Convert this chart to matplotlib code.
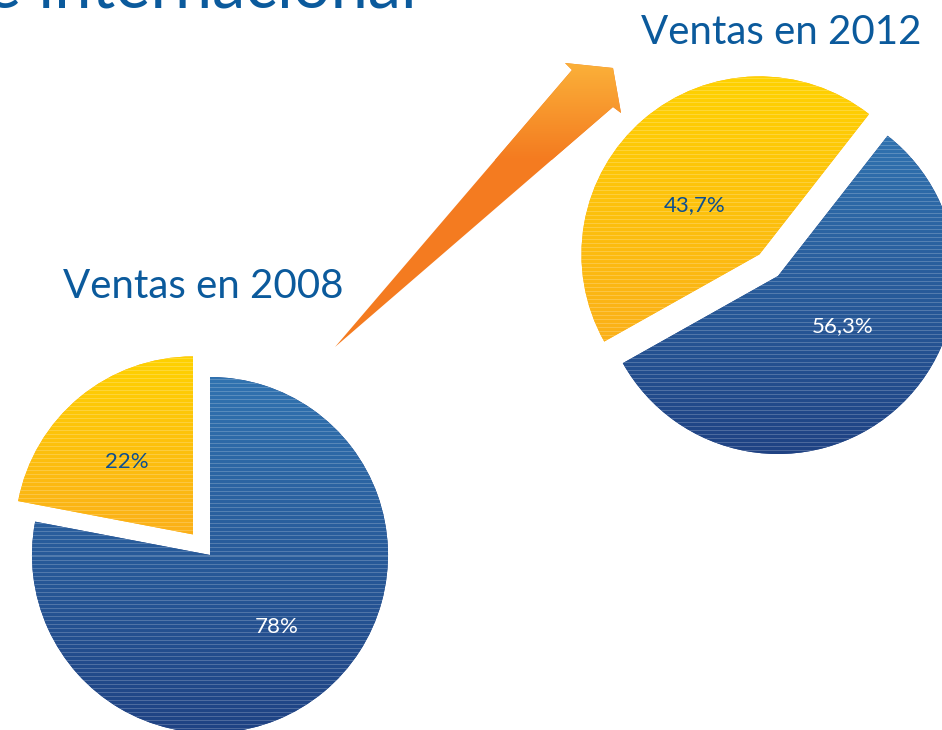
import numpy as np
import matplotlib
matplotlib.use("Agg")
import matplotlib.pyplot as plt
from matplotlib.colors import to_rgb
from matplotlib.patches import Polygon

# ---------- DATA ----------
slices = ["Internacional", "Nacional"]
ventas_2008 = [22, 78]
ventas_2012 = [43.7, 56.3]
labels_2008 = ["22%", "78%"]
labels_2012 = ["43,7%", "56,3%"]
title_2008 = "Ventas en 2008"
title_2012 = "Ventas en 2012"
page_title = "e internacional"

# ---------- STYLE ----------
W, H = 942, 730
FONT = ["Lato", "DejaVu Sans"]
TITLE_BLUE = "#0b5a9c"
LABEL_BLUE = "#0d4f8f"
YELLOW = ("#ffd200", "#fbb019")
BLUE = ("#3173b0", "#1f4283")
R = 178

fig = plt.figure(figsize=(W / 100, H / 100), dpi=100)
ax = fig.add_axes([0, 0, 1, 1])


def gradient_fill(ax, patch, top, bottom, extent, stripes=True, z=2):
    x0, x1, y0, y1 = extent
    n = max(int(y1 - y0), 2)
    t = np.linspace(0, 1, n)[:, None]
    c0, c1 = np.array(to_rgb(top)), np.array(to_rgb(bottom))
    img = (1 - t) * c0 + t * c1
    img = np.repeat(img[:, None, :], 4, axis=1).reshape(n, 4, 3)
    if stripes:
        mask = (np.arange(n) % 4 == 0)[:, None, None]
        img = np.where(mask, img * 0.8 + 0.2, img)
    im = ax.imshow(img, extent=extent, origin="upper", aspect="auto",
                   interpolation="nearest", zorder=z)
    im.set_clip_path(patch)
    return im


def draw_pie(ax, values, labels, center, start, explode, pctdist, shift=0):
    wedges, _ = ax.pie(values, startangle=start,
                       explode=[e * R for e in explode], radius=R,
                       center=center, counterclock=True,
                       colors=[YELLOW[1], BLUE[1]],
                       wedgeprops=dict(linewidth=0))
    for w, cols in zip(wedges, [YELLOW, BLUE]):
        w.set_zorder(1)
        bb = w.get_path().get_extents()
        gradient_fill(ax, w, cols[0], cols[1],
                      (bb.x0 - 2, bb.x1 + 2, bb.y0 - 2, bb.y1 + 2))
    # percentage labels, slightly rotated from the wedge mid-angle
    for w, lab, col in zip(wedges, labels, [LABEL_BLUE, "white"]):
        th = np.deg2rad((w.theta1 + w.theta2) / 2 + shift)
        wx, wy = w.center
        ax.text(wx + pctdist * R * np.cos(th), wy + pctdist * R * np.sin(th), lab,
                ha="center", va="center", color=col, fontsize=16,
                family=FONT, zorder=5)
    return wedges


draw_pie(ax, ventas_2008, labels_2008, (210, H - 555), 90, [0.15, 0], 0.55, 3)
draw_pie(ax, ventas_2012, labels_2012, (778, H - 276), 52, [0.16, 0], 0.46, 12)

# titles
ax.text(203, H - 286, title_2008, ha="center", va="center", color=TITLE_BLUE,
        fontsize=29, family=FONT)
ax.text(781, H - 33, title_2012, ha="center", va="center", color=TITLE_BLUE,
        fontsize=29, family=FONT)
# page heading, cut by the top edge as in the original slide
ax.text(417, H - 7, page_title, ha="right", va="baseline", color=TITLE_BLUE,
        fontsize=48, family=FONT)

# arrow between the two pies
arrow_pts = np.array([(335, 347), (572, 70), (565, 63), (613, 68),
                      (621, 113), (613, 107)], dtype=float)
arrow_pts[:, 1] = H - arrow_pts[:, 1]
arrow = Polygon(arrow_pts, closed=True, facecolor="#f47b20", edgecolor="none",
                zorder=3)
ax.add_patch(arrow)
gradient_fill(ax, arrow, "#fbb23a", "#f47b20",
              (330, 630, H - 160, H - 60), stripes=False, z=3)

ax.set_xlim(0, W)
ax.set_ylim(0, H)
ax.set_aspect("auto")
ax.axis("off")

fig.savefig("out.png", dpi=100)
